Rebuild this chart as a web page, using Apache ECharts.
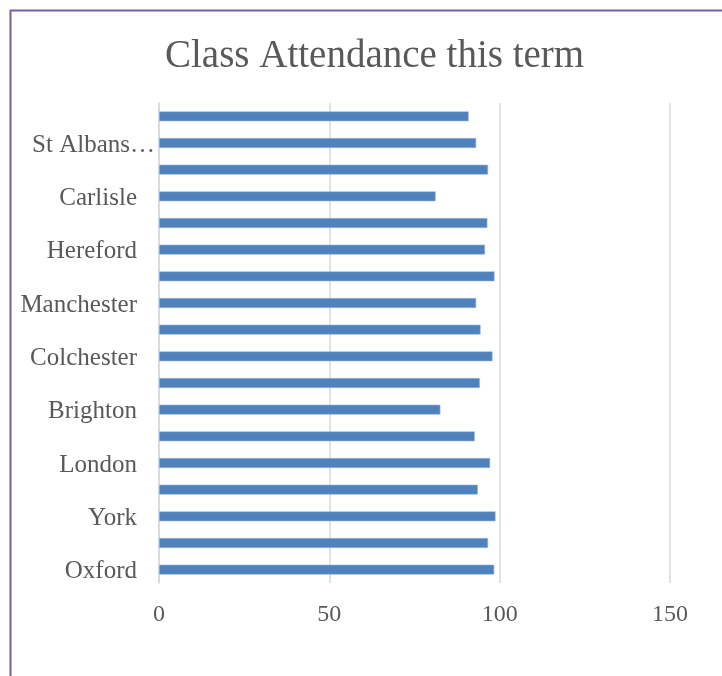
<!DOCTYPE html>
<html>
<head>
<meta charset="utf-8">
<script src="https://cdn.jsdelivr.net/npm/echarts@6/dist/echarts.min.js"></script>
<style>
html,body{margin:0;padding:0;background:#fff;}
#chart{width:722px;height:676px;}
</style>
</head>
<body>
<div id="chart"></div>
<script>
// Categories from bottom (index 0) to top
var categories = ['Oxford','Cambridge','York','Leeds','London','Bristol','Brighton','Bath','Colchester','Norwich','Manchester','Chester','Hereford','Durham','Carlisle','Exeter','St Albans City','Lincoln'];
var attendance = [98.4, 96.6, 98.8, 93.6, 97.2, 92.7, 82.6, 94.2, 97.9, 94.4, 93.1, 98.5, 95.7, 96.4, 81.2, 96.6, 93.1, 90.9];
var xTicks = [0, 50, 100, 150];

var chart = echarts.init(document.getElementById('chart'));
var font = 'Liberation Serif';
chart.setOption({
  animation: false,
  graphic: [{
    type: 'rect', left: 8, top: 8, z: -1,
    shape: { width: 800, height: 800 },
    style: { fill: 'none', stroke: '#7a5fa0', lineWidth: 2 }
  }],
  title: {
    text: 'Class Attendance this term',
    left: 160, top: 32,
    textStyle: { fontFamily: font, fontSize: 39, fontWeight: 'normal', color: '#595959' }
  },
  grid: { left: 159, right: 52, top: 103, bottom: 93, containLabel: false },
  xAxis: {
    type: 'value', min: xTicks[0], max: xTicks[xTicks.length - 1], interval: 50,
    axisLine: { show: false }, axisTick: { show: false },
    splitLine: { show: true, lineStyle: { color: '#d9d9d9', width: 1.5 } },
    axisLabel: { margin: 20, fontFamily: font, fontSize: 24, color: '#595959' }
  },
  yAxis: {
    type: 'category', data: categories,
    axisLine: { show: true, lineStyle: { color: '#d9d9d9', width: 1.5 } },
    axisTick: { show: false },
    axisLabel: {
      interval: 1, margin: 4,
      formatter: function (v) {
        if (v.length > 10) return '{b|' + v.slice(0, 9) + '…}';
        return '{a|' + v + '}';
      },
      rich: {
        a: { fontFamily: font, fontSize: 25, color: '#595959', padding: [4, 18, 0, 0] },
        b: { fontFamily: font, fontSize: 25, color: '#595959', padding: [4, 0, 0, 0] }
      }
    }
  },
  series: [{
    type: 'bar', data: attendance, barWidth: 10,
    itemStyle: { color: '#4f81bd', borderColor: '#9dbbe0', borderWidth: 0.6 }
  }]
});
</script>
</body>
</html>
